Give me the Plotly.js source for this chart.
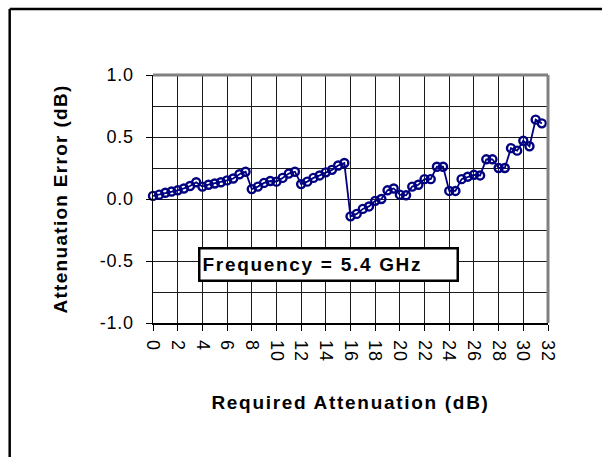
<!DOCTYPE html>
<html>
<head>
<meta charset="utf-8">
<script src="https://cdn.plot.ly/plotly-3.0.1.min.js"></script>
<style>
  html, body { margin: 0; padding: 0; background: #fff; }
  #chart { width: 602px; height: 457px; }
  .xtitle, .annotation-text { letter-spacing: 1.7px; }
  .ytitle { letter-spacing: 1.3px; }
  .xtick text, .ytick text { letter-spacing: 0.8px; }
</style>
</head>
<body>
<div id="chart"></div>
<script>
const attenuation = [
  0, 0.5, 1, 1.5, 2, 2.5, 3, 3.5,
  4, 4.5, 5, 5.5, 6, 6.5, 7, 7.5,
  8, 8.5, 9, 9.5, 10, 10.5, 11, 11.5,
  12, 12.5, 13, 13.5, 14, 14.5, 15, 15.5,
  16, 16.5, 17, 17.5, 18, 18.5, 19, 19.5,
  20, 20.5, 21, 21.5, 22, 22.5, 23, 23.5,
  24, 24.5, 25, 25.5, 26, 26.5, 27, 27.5,
  28, 28.5, 29, 29.5, 30, 30.5, 31, 31.5
];
const errorDb = [
  0.025, 0.035, 0.05, 0.06, 0.07, 0.085, 0.105, 0.135,
  0.10, 0.115, 0.125, 0.135, 0.15, 0.165, 0.20, 0.22,
  0.08, 0.10, 0.13, 0.145, 0.14, 0.17, 0.205, 0.22,
  0.12, 0.14, 0.17, 0.19, 0.215, 0.235, 0.27, 0.29,
  -0.14, -0.12, -0.08, -0.06, -0.015, 0.0, 0.07, 0.085,
  0.035, 0.03, 0.10, 0.115, 0.16, 0.16, 0.26, 0.26,
  0.065, 0.065, 0.16, 0.18, 0.195, 0.19, 0.32, 0.32,
  0.25, 0.25, 0.41, 0.39, 0.47, 0.425, 0.64, 0.61
];
const xTickVals = [0, 2, 4, 6, 8, 10, 12, 14, 16, 18, 20, 22, 24, 26, 28, 30, 32];
const yTickVals = [-1.0, -0.5, 0.0, 0.5, 1.0];
const yTickText = ["-1.0", "-0.5", "0.0", "0.5", "1.0"];
const noteText = "Frequency = 5.4 GHz";
const xTitle = "Required Attenuation (dB)";
const yTitle = "Attenuation Error (dB)";

const trace = {
  x: attenuation,
  y: errorDb,
  type: 'scatter',
  mode: 'lines+markers',
  line: { color: '#000080', width: 1.8 },
  marker: { symbol: 'circle-open', size: 8, color: '#000080', line: { width: 2.4, color: '#000080' } },
  hoverinfo: 'skip',
  cliponaxis: false
};

const font = 'Liberation Sans, Arial, sans-serif';

const layout = {
  width: 602,
  height: 457,
  margin: { l: 153, r: 54, t: 75, b: 134, pad: 0 },
  paper_bgcolor: '#ffffff',
  plot_bgcolor: '#ffffff',
  showlegend: false,
  font: { family: font, color: '#000' },
  xaxis: {
    range: [0, 32],
    tickvals: xTickVals,
    ticktext: xTickVals.map(String),
    tickangle: 90,
    ticks: 'outside',
    ticklen: 6,
    tickwidth: 1,
    tickcolor: '#000',
    tickfont: { family: font, size: 18, color: '#000' },
    showgrid: true,
    gridcolor: '#1a1a1a',
    gridwidth: 1,
    zeroline: false,
    showline: true,
    linecolor: '#000',
    linewidth: 1.5,
    ticklabelstandoff: 6,
    title: { text: xTitle, font: { family: font, size: 19, weight: 'bold', color: '#000' }, standoff: 35 },
    fixedrange: true
  },
  yaxis: {
    range: [-1, 1],
    tickvals: yTickVals,
    ticktext: yTickText,
    ticks: 'outside',
    ticklen: 6,
    tickwidth: 1,
    tickcolor: '#000',
    tickfont: { family: font, size: 18, color: '#000' },
    showgrid: true,
    gridcolor: '#1a1a1a',
    gridwidth: 1,
    minor: { dtick: 0.25, showgrid: true, gridcolor: '#1a1a1a', gridwidth: 1, ticks: '' },
    zeroline: false,
    showline: true,
    linecolor: '#000',
    linewidth: 1.5,
    ticklabelstandoff: 8,
    title: { text: yTitle, font: { family: font, size: 19, weight: 'bold', color: '#000' }, standoff: 27 },
    fixedrange: true
  },
  shapes: [
    { type: 'line', xref: 'paper', yref: 'paper', x0: 0, x1: 1, y0: 1, y1: 1, line: { color: '#808080', width: 3 } },
    { type: 'line', xref: 'paper', yref: 'paper', x0: 1, x1: 1, y0: 0, y1: 1, line: { color: '#808080', width: 3 } },
    { type: 'line', xref: 'paper', yref: 'paper', x0: -0.3628, x1: 1.2, y0: 1.2658, y1: 1.2658, line: { color: '#000', width: 2.5 } },
    { type: 'line', xref: 'paper', yref: 'paper', x0: -0.3628, x1: -0.3628, y0: 1.2658, y1: -0.6, line: { color: '#000', width: 2.5 } }
  ],
  annotations: [
    {
      text: '<b>' + noteText + '</b>',
      xref: 'paper', yref: 'paper',
      x: 0.113, y: 0.307,
      xanchor: 'left', yanchor: 'top',
      showarrow: false,
      align: 'left',
      width: 252,
      height: 26,
      font: { family: font, size: 19, color: '#000' },
      bgcolor: '#ffffff',
      bordercolor: '#000',
      borderwidth: 2.5,
      borderpad: 2
    }
  ]
};

Plotly.newPlot('chart', [trace], layout, { staticPlot: true, displayModeBar: false });
</script>
</body>
</html>
